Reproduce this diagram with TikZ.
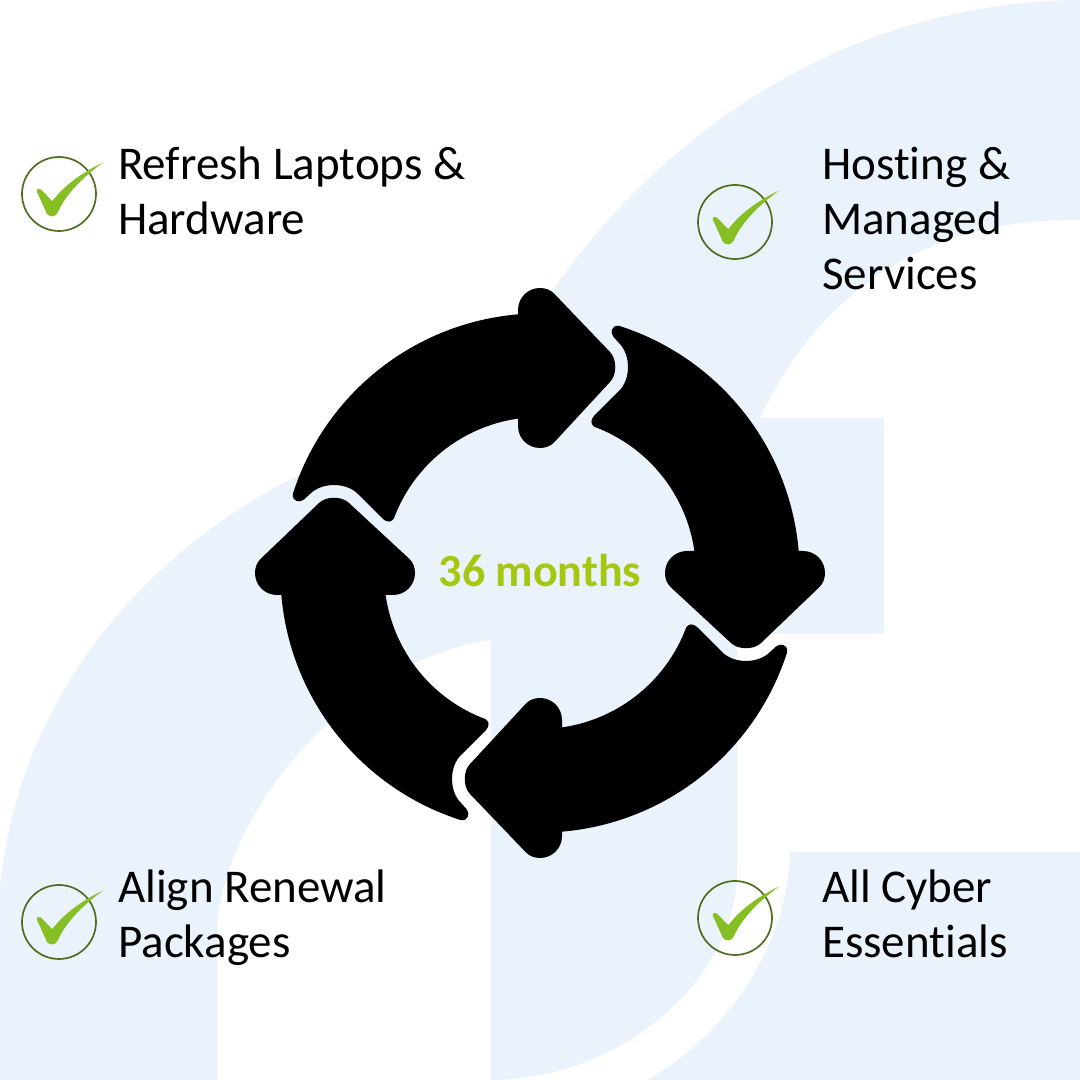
\documentclass[tikz,border=0pt]{standalone}
\usepackage{fontspec}
\setmainfont[Ligatures=CommonOff]{Carlito}
\definecolor{bgblue}{HTML}{EAF2FB}
\definecolor{tickgreen}{HTML}{86BF24}
\definecolor{ringgreen}{HTML}{4F6D1E}
\definecolor{monthgreen}{HTML}{A6C70F}
\tikzset{
 itemtext/.style={anchor=base west,align=left,inner sep=0pt,font=\fontsize{47}{55}\selectfont},
 tickring/.style={draw=ringgreen,circle,line width=1.7pt,minimum size=74pt,inner sep=0pt}
}
\begin{document}
\begin{tikzpicture}[x=1pt,y=1pt]
 \useasboundingbox (0,0) rectangle (1080,1080);
 \fill [bgblue](0,0) -- (0,193) .. controls (20,390) and (150,530) .. (297,604) -- (553,790) .. controls (650,930) and (830,1078) .. (1080,1080) -- (1080,860) .. controls (940,862) and (825,800) .. (760,662) -- (884,662) -- (884,446) -- (737,446) -- (737,210) .. controls (737,100) and (620,0) .. (491,0) -- (491,440) .. controls (350,420) and (225,270) .. (217,154) -- (217,0) -- cycle;
 \fill [bgblue](790,228) -- (1080,228) -- (1080,0) -- (647,0) .. controls (720,40) and (788,130) .. (790,228) -- cycle;
 \foreach \a in {0,-90,-180,-270}{
    \fill [black,shift={(540,507)},rotate=\a](-22,258.6) -- (-22,263) .. controls (-22,275.5) and (-12,285) .. (0,285) .. controls (5,285) and (10,283.5) .. (14,279.5) -- (70,221) .. controls (77,214) and (77,198) .. (70,191) -- (14,130.5) .. controls (10,126.5) and (5,125) .. (0,125) .. controls (-12,125) and (-22,134.5) .. (-22,147) -- (-22,154.4) arc[start angle=98.1,end angle=159.5,radius=156] .. controls (-148,51) and (-153,50) .. (-157,54) -- (-182,79) .. controls (-188,85) and (-197,88) .. (-206,88) .. controls (-215,88) and (-224,85) .. (-230,79) -- (-236,73.5) .. controls (-241,69.5) and (-248,72) .. (-247.2,79) arc[start angle=162.3,end angle=94.86,radius=259.5] -- cycle;
 }
 \node [font=\fontsize{46}{55}\selectfont\bfseries,text=monthgreen,inner sep=0pt] (months) at (540,509) {36 months};
 \foreach \x/\y in {59/886,735/858,59/158,735/162}{
    \node [tickring] (ring\x\y) at (\x,\y) {};
    \fill [tickgreen,shift={(\x,\y)}](-22,2) .. controls (-23,5) and (-20,6) .. (-18,4.5) -- (-6.7,-7.3) .. controls (3,6) and (20,20) .. (44.3,31.6) .. controls (24,17) and (7,0) .. (-1,-18) .. controls (-3,-23) and (-9,-24) .. (-12,-20) -- cycle;
 }
 \node [itemtext] (refresh) at (118,845.5) {Refresh Laptops \&\\Hardware};
 \node [itemtext] (hosting) at (822,790.5) {Hosting \&\\Managed\\Services};
 \node [itemtext] (align) at (118,122) {Align Renewal\\Packages};
 \node [itemtext] (cyber) at (822,122) {All Cyber\\Essentials};
\end{tikzpicture}
\end{document}
